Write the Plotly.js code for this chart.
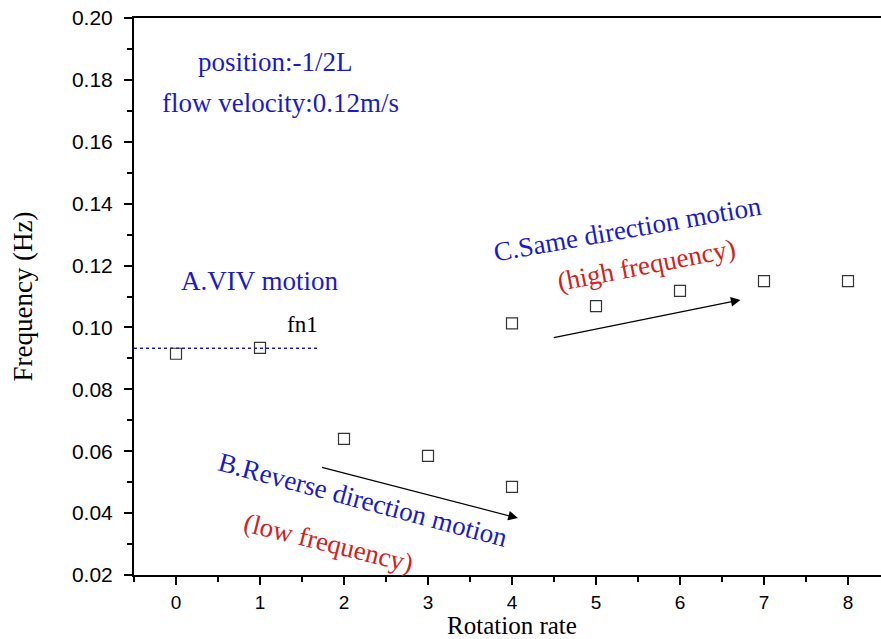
<!DOCTYPE html>
<html>
<head>
<meta charset="utf-8">
<script src="https://cdn.plot.ly/plotly-3.0.1.min.js"></script>
<style>
  html, body { margin: 0; padding: 0; background: #fff; overflow: hidden; }
  #chart { width: 900px; height: 639px; }
</style>
</head>
<body>
<div id="chart"></div>
<script>
// Measured response frequency against rotation rate
const rotationRate = [0, 1, 2, 3, 4, 4, 5, 6, 7, 8];
const frequency    = [0.0915, 0.0934, 0.0640, 0.0585, 0.0485, 0.1013, 0.1069, 0.1118, 0.1150, 0.1150];

// Natural frequency reference line (fn1)
const fn1Value = 0.0933;
const fn1Span  = [-0.5, 1.7];

// Trend arrows: [x0, y0, x1, y1]
const arrowLow  = [1.72, 0.0549, 4.07, 0.0384];
const arrowHigh = [4.48, 0.0966, 6.72, 0.1089];

const xTicks = [0, 1, 2, 3, 4, 5, 6, 7, 8];
const yTicks = [0.02, 0.04, 0.06, 0.08, 0.10, 0.12, 0.14, 0.16, 0.18, 0.20];

const serif = 'Liberation Serif, Times New Roman, serif';
const sans  = 'Liberation Sans, Arial, sans-serif';
const blue  = '#1a1acc';
const red   = '#d42020';

const traces = [
  {
    x: fn1Span, y: [fn1Value, fn1Value],
    mode: 'lines', type: 'scatter',
    line: { color: blue, width: 1.5, dash: 'dot' },
    hoverinfo: 'skip'
  },
  {
    x: rotationRate, y: frequency,
    mode: 'markers', type: 'scatter',
    marker: { symbol: 'square-open', size: 11, color: '#333', line: { width: 1.2 } }
  }
];

function arrow(a) {
  return {
    x: a[2], y: a[3], ax: a[0], ay: a[1],
    xref: 'x', yref: 'y', axref: 'x', ayref: 'y',
    showarrow: true, arrowhead: 2, arrowsize: 1.6, arrowwidth: 1.2,
    arrowcolor: '#000', text: ''
  };
}

function label(text, x, y, color, angle, size) {
  return {
    text: text, x: x, y: y, xref: 'x', yref: 'y',
    showarrow: false, textangle: angle || 0,
    font: { family: serif, size: size || 27, color: color }
  };
}

const layout = {
  width: 900, height: 639,
  margin: { l: 134, r: 10, t: 18, b: 64 },
  paper_bgcolor: '#fff', plot_bgcolor: '#fff',
  showlegend: false,
  xaxis: {
    range: [-0.5, 8.5],
    tickvals: xTicks, ticktext: xTicks.map(String),
    ticks: 'outside', ticklen: 8, tickwidth: 2, tickcolor: '#000',
    ticklabelstandoff: 1,
    minor: { dtick: 0.5, tick0: 0.5, ticks: 'outside', ticklen: 5, tickwidth: 2, tickcolor: '#000' },
    showline: true, linewidth: 2, linecolor: '#000', mirror: true,
    showgrid: false, zeroline: false,
    tickfont: { family: sans, size: 19, color: '#000' },
    title: { text: 'Rotation rate', font: { family: serif, size: 25, color: '#000' }, standoff: 9 }
  },
  yaxis: {
    range: [0.02, 0.20],
    tickvals: yTicks, ticktext: yTicks.map(v => v.toFixed(2)),
    ticks: 'outside', ticklen: 8, tickwidth: 2, tickcolor: '#000',
    ticklabelstandoff: 7,
    minor: { dtick: 0.01, tick0: 0.01, ticks: 'outside', ticklen: 5, tickwidth: 2, tickcolor: '#000' },
    showline: true, linewidth: 2, linecolor: '#000', mirror: false,
    showgrid: false, zeroline: false,
    tickfont: { family: sans, size: 21, color: '#000' },
    title: { text: 'Frequency (Hz)', font: { family: serif, size: 27, color: '#000' }, standoff: 31 }
  },
  annotations: [
    label('position:-1/2L', 1.18, 0.1858, blue),
    label('flow velocity:0.12m/s', 1.24, 0.1725, blue),
    label('A.VIV motion', 1.0, 0.1150, blue),
    label('fn1', 1.51, 0.1008, '#000', 0, 23),
    label('B.Reverse direction motion', 2.23, 0.0443, blue, 15),
    label('(low frequency)', 1.82, 0.0304, red, 14),
    label('C.Same direction motion', 5.38, 0.1318, blue, -10),
    label('(high frequency)', 5.60, 0.1202, red, -11),
    arrow(arrowLow),
    arrow(arrowHigh)
  ]
};

Plotly.newPlot('chart', traces, layout, { displayModeBar: false, staticPlot: true });
</script>
</body>
</html>
